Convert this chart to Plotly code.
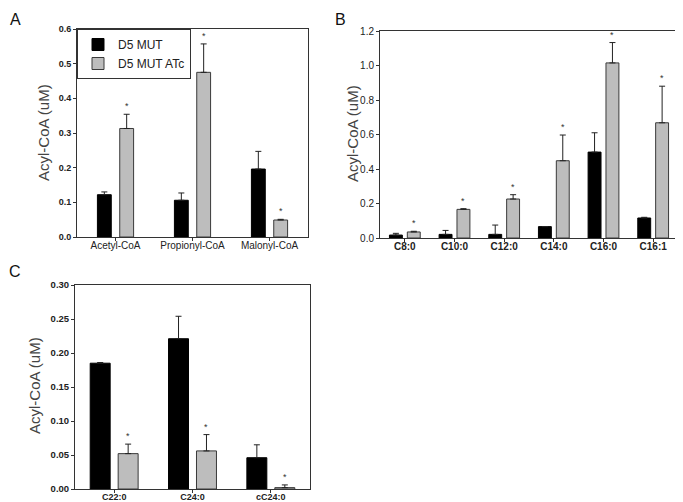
import plotly.graph_objects as go

# panel A - short chain acyl-CoA
cats_a = ["Acetyl-CoA", "Propionyl-CoA", "Malonyl-CoA"]
mut_a = [0.122, 0.106, 0.196]
mut_a_err = [0.008, 0.021, 0.051]
atc_a = [0.313, 0.475, 0.049]
atc_a_err = [0.041, 0.082, 0.002]

# panel B - medium / long chain
cats_b = ["C8:0", "C10:0", "C12:0", "C14:0", "C16:0", "C16:1"]
mut_b = [0.017, 0.021, 0.021, 0.066, 0.498, 0.116]
mut_b_err = [0.010, 0.023, 0.054, 0.0, 0.112, 0.004]
atc_b = [0.035, 0.166, 0.226, 0.448, 1.015, 0.668]
atc_b_err = [0.004, 0.004, 0.025, 0.149, 0.118, 0.212]

# panel C - very long chain
cats_c = ["C22:0", "C24:0", "cC24:0"]
mut_c = [0.185, 0.221, 0.046]
mut_c_err = [0.001, 0.033, 0.019]
atc_c = [0.052, 0.056, 0.002]
atc_c_err = [0.014, 0.024, 0.004]

W, H = 683, 502
PAD = 8  # default body margin of the html page
FONT = "Liberation Sans, Arial, sans-serif"
BLACK = "#000000"
GREY = "#bdbdbd"


def px_x(p):
    return (p - PAD) / W


def px_y(p):
    return 1 - (p - PAD) / H


fig = go.Figure()

panels = [
    # name, cats, mut, mut_err, atc, atc_err, axis suffix, bar width, slot
    ("a", cats_a, mut_a, mut_a_err, atc_a, atc_a_err, "", 0.18, 0.29),
    ("b", cats_b, mut_b, mut_b_err, atc_b, atc_b_err, "2", 0.26, 0.36),
    ("c", cats_c, mut_c, mut_c_err, atc_c, atc_c_err, "3", 0.255, 0.357),
]

annotations = []
for name, cats, mut, mut_err, atc, atc_err, ax, w, slot in panels:
    first = name == "a"
    fig.add_trace(go.Bar(
        x=cats, y=mut, name="D5 MUT", showlegend=first,
        width=w, offset=-slot / 2 - w / 2,
        marker=dict(color=BLACK, line=dict(color=BLACK, width=1)),
        error_y=dict(type="data", symmetric=False, array=mut_err,
                     arrayminus=[0] * len(mut), color="#222222",
                     thickness=1, width=3),
        xaxis="x" + ax, yaxis="y" + ax,
    ))
    fig.add_trace(go.Bar(
        x=cats, y=atc, name="D5 MUT ATc", showlegend=first,
        width=w, offset=slot / 2 - w / 2,
        marker=dict(color=GREY, line=dict(color="#3a3a3a", width=1)),
        error_y=dict(type="data", symmetric=False, array=atc_err,
                     arrayminus=[0] * len(atc), color="#222222",
                     thickness=1, width=3),
        xaxis="x" + ax, yaxis="y" + ax,
    ))
    # significance stars above the ATc bars
    for i, (v, e) in enumerate(zip(atc, atc_err)):
        annotations.append(dict(
            x=i + slot / 2, y=v + e, xref="x" + ax, yref="y" + ax,
            text="*", showarrow=False, xanchor="center", yanchor="bottom",
            yshift=1, font=dict(family=FONT, size=9, color="#333333"),
        ))

# panel letters
for letter, x, y in [("A", 15, 20), ("B", 340, 20), ("C", 15, 271)]:
    annotations.append(dict(
        x=px_x(x), y=px_y(y), xref="paper", yref="paper", text=letter,
        showarrow=False, xanchor="center", yanchor="middle",
        font=dict(family=FONT, size=16, color="#111111"),
    ))

# y axis titles
for x, y in [(43, 133), (352, 134), (34, 386)]:
    annotations.append(dict(
        x=px_x(x), y=px_y(y), xref="paper", yref="paper",
        text="Acyl-CoA (uM)", textangle=-90, showarrow=False,
        xanchor="center", yanchor="middle",
        font=dict(family=FONT, size=15, color="#444444"),
    ))


def xaxis_style(dom, size, anchor, bold=False):
    return dict(
        domain=dom, anchor=anchor, automargin=False,
        showline=True, mirror=True, linecolor="#333333",
        linewidth=1, ticks="outside", ticklen=3, tickcolor="#333333",
        ticklabelstandoff=-4,
        tickfont=dict(family=FONT, size=size, color="#222222",
                      weight="bold" if bold else "normal"),
        showgrid=False, zeroline=False, fixedrange=True,
    )


def yaxis_style(dom, rng, dtick, fmt, size, anchor, bold=False):
    return dict(
        domain=dom, range=rng, dtick=dtick, tickformat=fmt, anchor=anchor,
        automargin=False,
        showline=True, mirror=True, linecolor="#333333", linewidth=1,
        ticks="outside", ticklen=3, tickcolor="#333333",
        tickfont=dict(family=FONT, size=size, color="#222222",
                      weight="bold" if bold else "normal"),
        showgrid=False, zeroline=False, fixedrange=True,
    )


fig.update_layout(
    width=W, height=H,
    margin=dict(l=0, r=0, t=0, b=0),
    paper_bgcolor="white", plot_bgcolor="white",
    barmode="overlay",
    font=dict(family=FONT),
    xaxis=xaxis_style([px_x(77), px_x(308)], 10, "y"),
    yaxis=yaxis_style([px_y(237), px_y(29)], [0, 0.6], 0.1, ".1f", 9, "x", True),
    xaxis2=xaxis_style([px_x(380), px_x(678)], 10, "y2", True),
    yaxis2=yaxis_style([px_y(238), px_y(31)], [0, 1.2], 0.2, ".1f", 10, "x2"),
    xaxis3=xaxis_style([px_x(75), px_x(310)], 9, "y3", True),
    yaxis3=yaxis_style([px_y(489), px_y(285)], [0, 0.30], 0.05, ".2f", 9.5, "x3", True),
    legend=dict(
        x=px_x(77), y=px_y(29), xanchor="left", yanchor="top",
        bgcolor="white", bordercolor="#333333", borderwidth=1,
        font=dict(family=FONT, size=12, color="#222222"),
        tracegroupgap=0, itemwidth=30,
    ),
    annotations=annotations,
    showlegend=True,
)

fig.write_html("out.html")
